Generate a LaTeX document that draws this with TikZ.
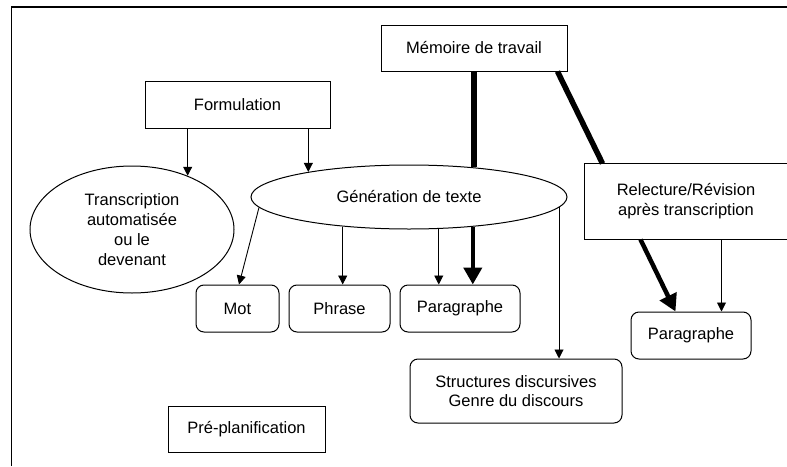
\documentclass[tikz,border=0pt]{standalone}
\usepackage{fontspec}
\setmainfont{Liberation Sans}
\usetikzlibrary{shapes.geometric,arrows.meta}
\tikzset{
  box/.style={draw, line width=1pt, rectangle, inner sep=0pt, align=center, font=\fontsize{16.5}{19.8}\selectfont},
  rbox/.style={box, rounded corners=8pt},
  ell/.style={draw, line width=1pt, ellipse, inner sep=0pt, align=center, font=\fontsize{16.5}{19.8}\selectfont},
  thinarr/.style={line width=0.9pt, -{Triangle[length=9pt,width=9pt]}},
  thickarr/.style={line width=4.5pt, -{Triangle[length=17pt,width=18pt]}},
  thickline/.style={line width=5.5pt},
}
\begin{document}
\begin{tikzpicture}[x=1pt,y=-1pt]
\useasboundingbox (0,0) rectangle (787,466);
% frame
\draw[line width=1.5pt] (11.5,466) -- (11.5,7) -- (787,7);

\node[box, minimum width=186pt, minimum height=46pt] (mem) at (474,48) {Mémoire de travail};
\node[box, minimum width=185pt, minimum height=47pt] (form) at (237.5,104.5) {Formulation};
\node[ell, minimum width=204pt, minimum height=127pt] (trans) at (132,229.5) {Transcription\\automatisée\\ou le\\devenant};
\node[ell, minimum width=316pt, minimum height=64pt] (gen) at (409,197) {Génération de texte};
\node[box, draw=none, minimum width=202pt, minimum height=75pt] (rel) at (686,201.5) {Relecture/Révision\\après transcription};
\draw[line width=1pt] (rel.north east) -- (rel.north west) -- (rel.south west) -- (rel.south east);
\node[rbox, minimum width=83pt, minimum height=47pt] (mot) at (237.5,308.5) {Mot};
\node[rbox, minimum width=101pt, minimum height=47pt] (phr) at (339.5,308.5) {Phrase};
\node[rbox, minimum width=120pt, minimum height=47pt] (par) at (460,308.5) {Paragraphe};
\node[rbox, minimum width=120pt, minimum height=47pt] (par2) at (691,335.5) {Paragraphe};
\node[rbox, minimum width=212pt, minimum height=64pt] (str) at (516,391) {Structures discursives\\Genre du discours};
\node[box, minimum width=157pt, minimum height=46pt] (pre) at (246.5,429) {Pré-planification};

% connectors
\draw[thinarr] (trans.44 |- form.south) -- (trans.44);
\draw[thinarr] (gen.166.3 |- form.south) -- (gen.166.3);
\draw[thickline] (mem.south) -- (gen.24.2 -| mem.south);
\draw[thickline] ([xshift=-10pt]mem.south east) -- ([xshift=18pt]rel.north west);
\draw[thinarr] (gen.184) -- ([xshift=1.5pt]mot.north);
\draw[thinarr] (gen.204.2) -- (gen.204.2 |- phr.north);
\draw[thinarr] (gen.-47.4) -- (gen.-47.4 |- par.north);
\draw[thickarr] (gen.-25.8) -- (gen.-25.8 |- par.north);
\draw[thinarr] (gen.-4.55) -- (gen.-4.55 |- str.north);
\draw[thickarr] ([xshift=56pt]rel.south west) -- ([xshift=45pt]par2.north west);
\draw[thinarr] ([xshift=137pt]rel.south west) -- ([xshift=137pt]rel.south west |- par2.north);
\end{tikzpicture}
\end{document}
